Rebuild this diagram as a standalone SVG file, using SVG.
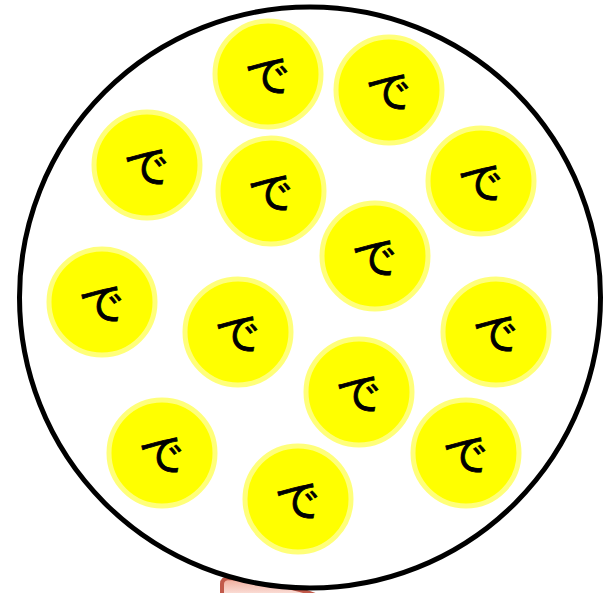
<svg xmlns="http://www.w3.org/2000/svg" width="615" height="593" viewBox="0 0 615 593">
<style>
.ball{fill:#ffff00;stroke:#ffff7a;stroke-width:5}
.lbl{font-family:"Noto Sans CJK JP","Noto Sans",sans-serif;font-size:45px;font-weight:400;fill:#000;stroke:#000;stroke-width:0.8;text-anchor:middle;dominant-baseline:central}
</style>
<defs>
<linearGradient id="pinkg" x1="0" y1="0" x2="0" y2="1">
<stop offset="0" stop-color="#f0a998"/>
<stop offset="0.6" stop-color="#fde9e4"/>
<stop offset="1" stop-color="#ffffff"/>
</linearGradient>
</defs>
<rect width="615" height="593" fill="#fff"/>
<g id="base">
<path d="M222 610 L222 584 Q222 578 230 578 Q270 582 300 590 Q325 597 345 610 Z" fill="url(#pinkg)" stroke="#c25a4b" stroke-width="4"/>
</g>
<g id="container">
<circle cx="310" cy="297.5" r="290.5" fill="#fff" stroke="#000" stroke-width="5"/>
</g>
<g id="n1"><circle class="ball" cx="268" cy="74" r="53"/><text class="lbl" transform="translate(268 74) rotate(-9)">で</text></g>
<g id="n2"><circle class="ball" cx="389" cy="90" r="53"/><text class="lbl" transform="translate(389 90) rotate(-9)">で</text></g>
<g id="n3"><circle class="ball" cx="147" cy="165" r="53"/><text class="lbl" transform="translate(147 165) rotate(-9)">で</text></g>
<g id="n4"><circle class="ball" cx="271" cy="191" r="53"/><text class="lbl" transform="translate(271 191) rotate(-9)">で</text></g>
<g id="n5"><circle class="ball" cx="481" cy="181" r="53"/><text class="lbl" transform="translate(481 181) rotate(-9)">で</text></g>
<g id="n6"><circle class="ball" cx="375" cy="256" r="53"/><text class="lbl" transform="translate(375 256) rotate(-9)">で</text></g>
<g id="n7"><circle class="ball" cx="102" cy="302" r="53"/><text class="lbl" transform="translate(102 302) rotate(-9)">で</text></g>
<g id="n8"><circle class="ball" cx="238" cy="332" r="53"/><text class="lbl" transform="translate(238 332) rotate(-9)">で</text></g>
<g id="n9"><circle class="ball" cx="496" cy="332" r="53"/><text class="lbl" transform="translate(496 332) rotate(-9)">で</text></g>
<g id="n10"><circle class="ball" cx="359" cy="392" r="53"/><text class="lbl" transform="translate(359 392) rotate(-9)">で</text></g>
<g id="n11"><circle class="ball" cx="162" cy="453" r="53"/><text class="lbl" transform="translate(162 453) rotate(-9)">で</text></g>
<g id="n12"><circle class="ball" cx="466" cy="453" r="53"/><text class="lbl" transform="translate(466 453) rotate(-9)">で</text></g>
<g id="n13"><circle class="ball" cx="298" cy="499" r="53"/><text class="lbl" transform="translate(298 499) rotate(-9)">で</text></g>
</svg>
